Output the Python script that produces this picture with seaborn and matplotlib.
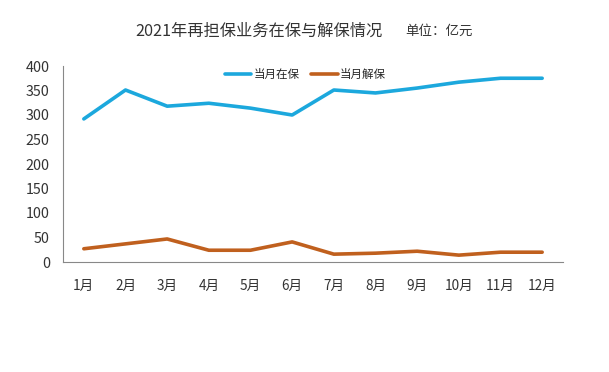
import matplotlib
matplotlib.use("Agg")
import matplotlib.pyplot as plt
import seaborn as sns
import pandas as pd
import numpy as np

months = ["1月", "2月", "3月", "4月", "5月", "6月", "7月", "8月", "9月", "10月", "11月", "12月"]
in_force = [292, 351, 318, 324, 314, 300, 351, 345, 355, 367, 375, 375]
released = [27, 37, 47, 24, 24, 41, 16, 18, 22, 14, 20, 20]
series_names = ["当月在保", "当月解保"]
colors = ["#1CA8DD", "#C0601E"]

sns.set_theme(style="white")
plt.rcParams['font.family'] = ['Noto Sans CJK SC', 'DejaVu Sans']

df = pd.DataFrame({
    "month": months * 2,
    "value": in_force + released,
    "series": [series_names[0]] * len(months) + [series_names[1]] * len(months),
})
df["x"] = list(range(len(months))) * 2

fig = plt.figure(figsize=(6.09, 3.72), dpi=100)
ax = fig.add_axes([63/609, 1-262/372, 500/609, 196/372])

sns.lineplot(data=df, x="x", y="value", hue="series", palette=colors,
             linewidth=2.6, ax=ax, legend=True)

ax.set_xlim(-0.5, len(months) - 0.5)
ax.set_ylim(0, 400)
ax.set_yticks(range(0, 401, 50))
ax.set_xticks(range(len(months)))
ax.set_xticklabels(months)
ax.set_xticks(np.arange(-0.5, len(months), 1), minor=True)
ax.tick_params(axis="x", which="major", length=0, pad=12, labelsize=9.8, colors="#333333")
ax.tick_params(axis="x", which="minor", length=5, width=0.8, color="#888888", direction="out")
ax.tick_params(axis="y", length=0, pad=9.5, labelsize=10.3, colors="#333333")
ax.set_xlabel("")
ax.set_ylabel("")
for s in ["top", "right"]:
    ax.spines[s].set_visible(False)
for s in ["left", "bottom"]:
    ax.spines[s].set_color("#888888")
    ax.spines[s].set_linewidth(0.8)

handles, labels = ax.get_legend_handles_labels()
ax.legend(handles, labels, loc="upper center", bbox_to_anchor=(0.485, 1.045), ncol=2,
          frameon=False, fontsize=8.3, handlelength=2.3, columnspacing=1.0, handletextpad=0.2)

fig.text(258.5/609, 1-31/372, "2021年再担保业务在保与解保情况", ha="center", va="center",
         fontsize=11.7, color="#333333")
fig.text(439/609, 1-31/372, "单位：亿元", ha="center", va="center",
         fontsize=9.7, color="#333333")

fig.savefig("out.png", dpi=100)
